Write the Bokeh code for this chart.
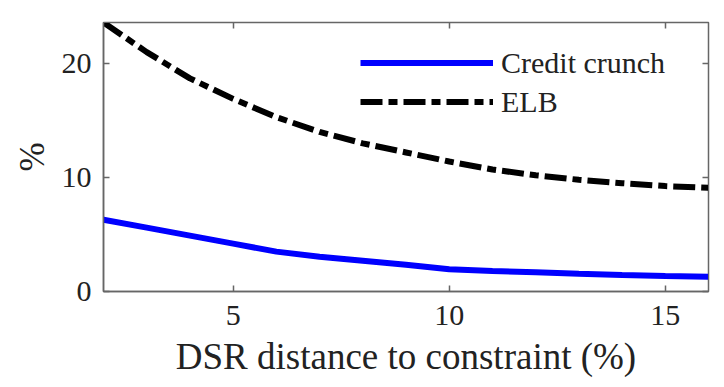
from bokeh.plotting import figure
from bokeh.models import Range1d, LinearAxis, FixedTicker, Legend, LegendItem
from bokeh.embed import file_html
from bokeh.resources import INLINE

x_vals = [2, 3, 4, 5, 6, 7, 8, 9, 10, 11, 12, 13, 14, 15, 16]
credit_crunch = [6.3, 5.6, 4.9, 4.2, 3.5, 3.05, 2.7, 2.35, 1.95, 1.8, 1.68, 1.55, 1.45, 1.37, 1.3]
elb = [23.6, 21.0, 18.7, 16.9, 15.3, 14.0, 13.0, 12.2, 11.4, 10.7, 10.2, 9.8, 9.5, 9.25, 9.1]
x_ticks = [5, 10, 15]
y_ticks = [0, 10, 20]

FONT = "Liberation Serif"
AX = "#666666"
TXT = "#222222"

p = figure(width=716, height=379, output_backend="svg", toolbar_location=None,
           x_range=Range1d(2, 16), y_range=Range1d(0, 23.6),
           min_border_left=103, min_border_right=8, min_border_top=22, min_border_bottom=86,
           x_axis_label="DSR distance to constraint (%)", y_axis_label="%")
p.xgrid.visible = False
p.ygrid.visible = False
p.outline_line_color = AX
p.outline_line_width = 1.5
p.background_fill_color = "white"
p.border_fill_color = "white"

for ax, ticks in ((p.xaxis[0], x_ticks), (p.yaxis[0], y_ticks)):
    ax.ticker = FixedTicker(ticks=ticks)
    ax.axis_line_color = AX
    ax.axis_line_width = 1.5
    ax.major_tick_line_color = AX
    ax.major_tick_line_width = 1.5
    ax.major_tick_in = 6
    ax.major_tick_out = 0
    ax.minor_tick_line_color = None
    ax.major_label_text_font = FONT
    ax.major_label_text_font_size = "30px"
    ax.major_label_text_color = TXT
    ax.axis_label_text_font = FONT
    ax.axis_label_text_font_style = "normal"
    ax.axis_label_text_color = TXT

p.xaxis[0].axis_label_text_font_size = "37px"
p.yaxis[0].axis_label_text_font_size = "35px"
p.xaxis[0].major_label_standoff = 14
p.xaxis[0].axis_label_standoff = 8
p.yaxis[0].major_label_standoff = 12
p.yaxis[0].axis_label_standoff = 7

# mirrored inward ticks on top and right
top = LinearAxis(ticker=FixedTicker(ticks=x_ticks),
                 major_label_overrides={t: "" for t in x_ticks},
                 major_label_text_font_size="10px",
                 axis_line_color=AX, major_tick_line_color=AX, major_tick_line_width=1.5,
                 major_tick_in=6, major_tick_out=0,
                 minor_tick_line_color=None, major_label_standoff=0)
right = LinearAxis(ticker=FixedTicker(ticks=y_ticks),
                   major_label_overrides={t: "" for t in y_ticks},
                   major_label_text_font_size="10px",
                   axis_line_color=AX, major_tick_line_color=AX, major_tick_line_width=1.5,
                   major_tick_in=6, major_tick_out=0,
                   minor_tick_line_color=None, major_label_standoff=0)
p.add_layout(top, "above")
p.add_layout(right, "right")

r1 = p.line(x_vals, credit_crunch, line_color="#0000ff", line_width=6)
r2 = p.line(x_vals, elb, line_color="black", line_width=6, line_dash="22 6 9 6")

legend = Legend(items=[LegendItem(label="Credit crunch", renderers=[r1]),
                       LegendItem(label="ELB", renderers=[r2])],
                location=(257, 170), padding=0, margin=0, spacing=0,
                glyph_width=133, glyph_height=39, label_height=39, label_standoff=8,
                label_text_font=FONT, label_text_font_size="30px", label_text_color=TXT,
                background_fill_alpha=0, border_line_alpha=0)
p.add_layout(legend, "center")

open("out.html", "w").write(file_html(p, INLINE))
